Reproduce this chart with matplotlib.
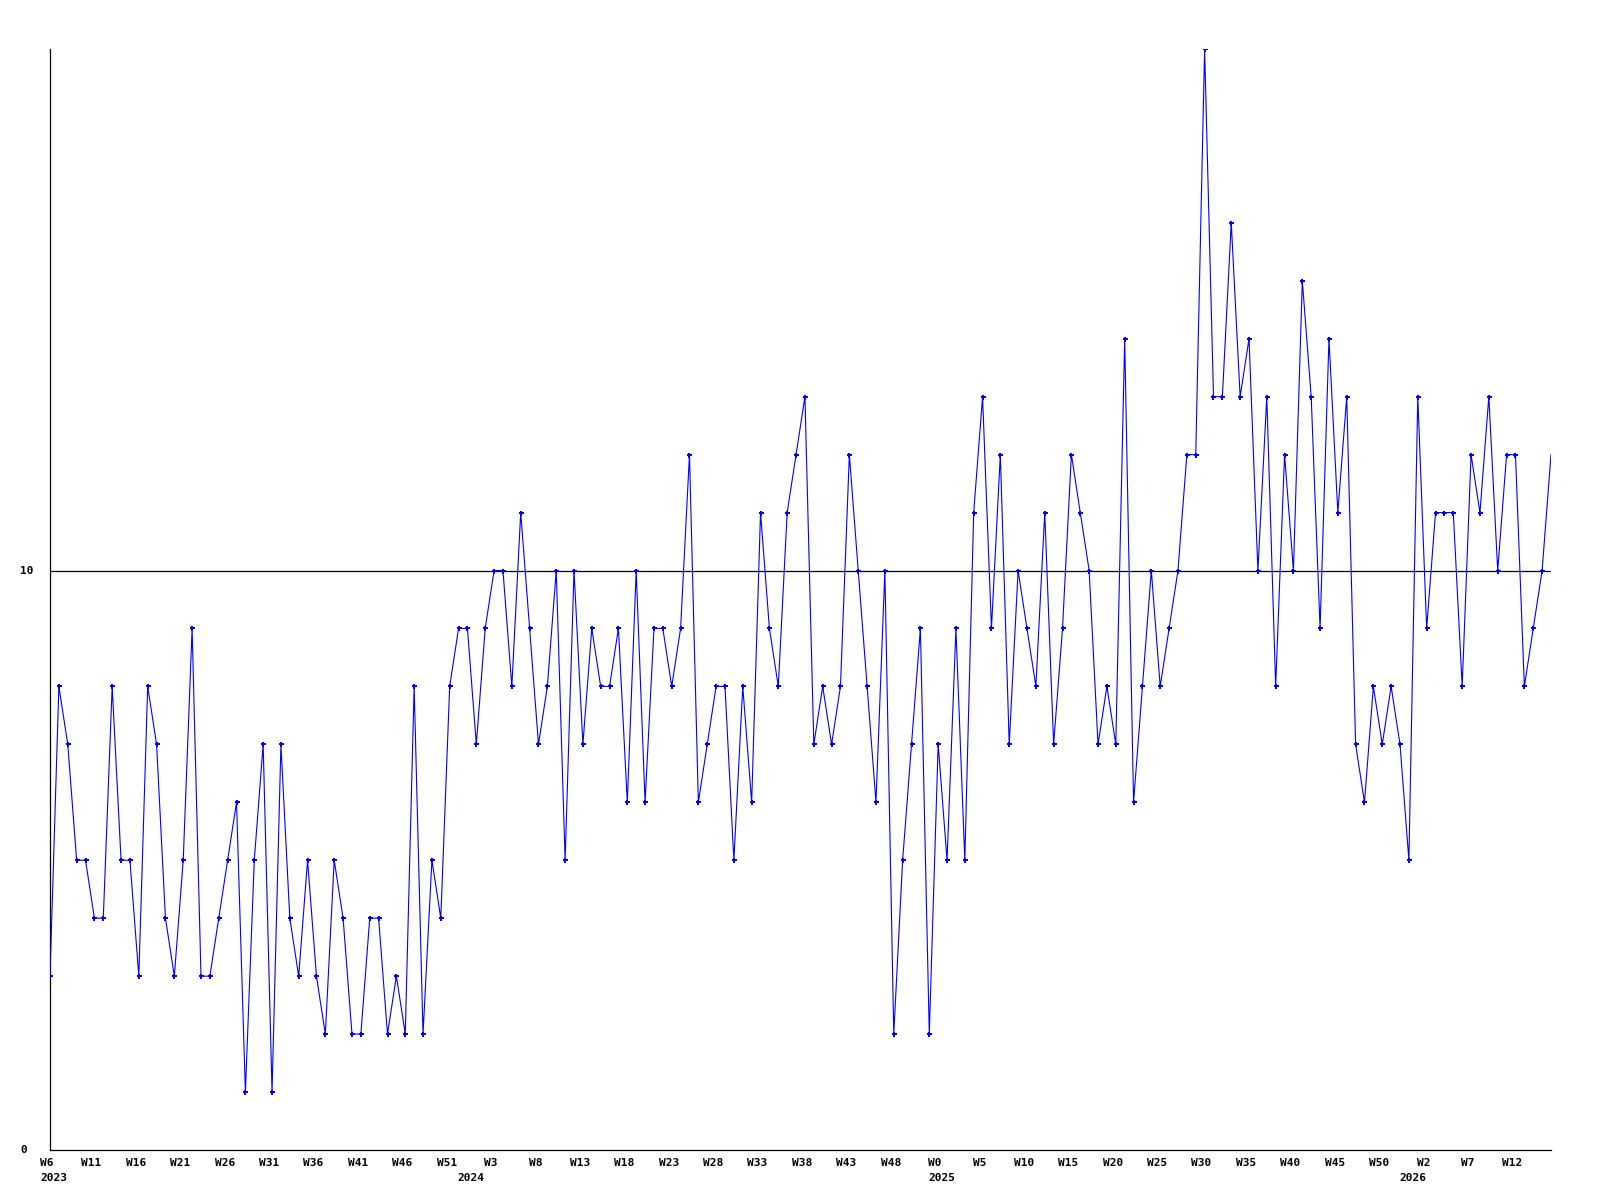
import matplotlib.pyplot as plt
import matplotlib.transforms as mtransforms
import numpy as np

# weekly counts, 2023 W6 .. 2026 W16
counts = [3, 8, 7, 5, 5, 4, 4, 8, 5, 5,
          3, 8, 7, 4, 3, 5, 9, 3, 3, 4,
          5, 6, 1, 5, 7, 1, 7, 4, 3, 5,
          3, 2, 5, 4, 2, 2, 4, 4, 2, 3,
          2, 8, 2, 5, 4, 8, 9, 9, 7, 9,
          10, 10, 8, 11, 9, 7, 8, 10, 5, 10,
          7, 9, 8, 8, 9, 6, 10, 6, 9, 9,
          8, 9, 12, 6, 7, 8, 8, 5, 8, 6,
          11, 9, 8, 11, 12, 13, 7, 8, 7, 8,
          12, 10, 8, 6, 10, 2, 5, 7, 9, 2,
          7, 5, 9, 5, 11, 13, 9, 12, 7, 10,
          9, 8, 11, 7, 9, 12, 11, 10, 7, 8,
          7, 14, 6, 8, 10, 8, 9, 10, 12, 12,
          19, 13, 13, 16, 13, 14, 10, 13, 8, 12,
          10, 15, 13, 9, 14, 11, 13, 7, 6, 8,
          7, 8, 7, 5, 13, 9, 11, 11, 11, 8,
          12, 11, 13, 10, 12, 12, 8, 9, 10, 12]

week_ticks = ["W6", "W11", "W16", "W21", "W26", "W31", "W36", "W41", "W46", "W51",
              "W3", "W8", "W13", "W18", "W23", "W28", "W33", "W38", "W43", "W48",
              "W0", "W5", "W10", "W15", "W20", "W25", "W30", "W35", "W40", "W45", "W50",
              "W2", "W7", "W12"]
years = ["2023", "2024", "2025", "2026"]
year_start = [0, 47, 100, 153]   # index of first week of each year
y_labels = [0, 10]

font = dict(family="DejaVu Sans Mono", weight="bold", size=8)

fig = plt.figure(figsize=(16, 12), dpi=100)
ax = fig.add_axes([50/1600, 50/1200, 1501/1600, 1101/1200])

x = np.arange(len(counts))
# last (current, incomplete) week is drawn without a marker
ax.plot(x, counts, color="#0000ff", lw=0.8, marker="P", ms=3.6, mew=0,
        markevery=list(range(len(counts) - 1)), zorder=3)
ax.axhline(10, color="black", lw=0.9, zorder=2)

ax.set_xlim(0, len(counts) - 1)
ax.set_ylim(0, 19)

for s in ["top", "right"]:
    ax.spines[s].set_visible(False)
for s in ["left", "bottom"]:
    ax.spines[s].set_linewidth(0.9)

ax.set_xticks(x[::5])
ax.set_xticklabels(week_ticks, **font)
ax.tick_params(axis="x", length=0, pad=6)
ax.set_yticks([])
shift = mtransforms.ScaledTranslation(-3/100, 0, fig.dpi_scale_trans)
for lab in ax.get_xticklabels():
    lab.set_transform(lab.get_transform() + shift)

# year labels under the first week of each year
for yr, pos in zip(years, year_start):
    ax.annotate(yr, (pos, 0), xycoords=("data", "axes fraction"),
                xytext=(-7, -16.5), textcoords="offset points",
                ha="left", va="top", **font)

# y labels at fixed left margin
trans = mtransforms.blended_transform_factory(fig.transFigure, ax.transData)
for v in y_labels:
    ax.text(20/1600, v, str(v), transform=trans, ha="left", va="center", **font)

fig.savefig("out.png", dpi=100)
